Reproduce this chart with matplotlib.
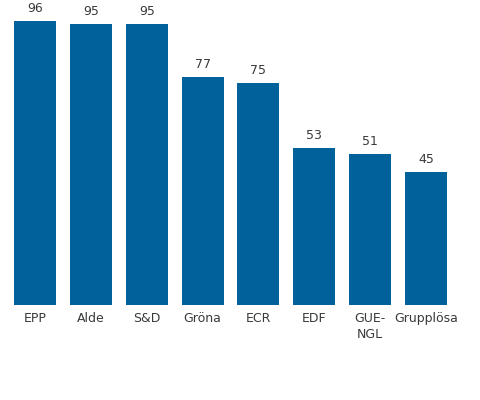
"""Seats per group, simple bar chart."""

import matplotlib

matplotlib.use("Agg")
import matplotlib.pyplot as plt

GROUPS = ["EPP", "Alde", "S&D", "Gröna", "ECR", "EDF", "GUE-\nNGL", "Grupplösa"]
SEATS = [96, 95, 95, 77, 75, 53, 51, 45]

BAR_COLOR = "#00619b"
TEXT_COLOR = "#3a3a3a"


def main() -> None:
    plt.rcParams.update({"font.family": "DejaVu Sans"})

    fig = plt.figure(figsize=(4.8, 4.0), dpi=100)
    ax = fig.add_axes([7 / 480, 0.238, 447 / 480, 0.74])

    positions = list(range(len(GROUPS)))
    bars = ax.bar(positions, SEATS, width=0.752, color=BAR_COLOR)

    for bar, value in zip(bars, SEATS):
        ax.annotate(
            f"{value}",
            xy=(bar.get_x() + bar.get_width() / 2, bar.get_height()),
            xytext=(0, 4),
            textcoords="offset points",
            ha="center",
            va="bottom",
            fontsize=9,
            color=TEXT_COLOR,
        )

    ax.set_xlim(-0.5, len(GROUPS) - 0.5)
    ax.set_ylim(0, 100)
    ax.set_xticks(positions)
    ax.set_xticklabels(GROUPS, fontsize=9, color=TEXT_COLOR, linespacing=1.35)
    ax.set_yticks([])
    ax.tick_params(axis="x", length=0, pad=5)
    for spine in ax.spines.values():
        spine.set_visible(False)

    fig.savefig("out.png")
    plt.close(fig)


if __name__ == "__main__":
    main()
